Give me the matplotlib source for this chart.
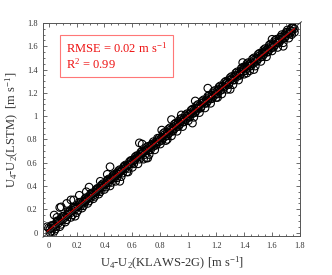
import numpy as np
import matplotlib
matplotlib.use("Agg")
import matplotlib.pyplot as plt
from matplotlib.ticker import MultipleLocator, FuncFormatter

plt.rcParams['font.family'] = ['Liberation Serif', 'DejaVu Serif']
plt.rcParams['mathtext.fontset'] = 'custom'
plt.rcParams['mathtext.rm'] = 'Liberation Serif'
plt.rcParams['mathtext.it'] = 'Liberation Serif:italic'

# core band (KLAWS-2G observed vs LSTM predicted)
obs_core = [
    0.01, 0.02, 0.03, 0.04, 0.05, 0.06, 0.07, 0.08, 0.09, 0.10,
    0.11, 0.12, 0.13, 0.14, 0.15, 0.16, 0.17, 0.18, 0.19, 0.20,
    0.21, 0.22, 0.23, 0.24, 0.25, 0.26, 0.27, 0.28, 0.29, 0.30,
    0.31, 0.32, 0.33, 0.34, 0.35, 0.36, 0.37, 0.38, 0.39, 0.40,
    0.41, 0.42, 0.43, 0.44, 0.45, 0.46, 0.47, 0.48, 0.49, 0.50,
    0.51, 0.52, 0.53, 0.54, 0.55, 0.56, 0.57, 0.58, 0.59, 0.60,
    0.61, 0.62, 0.63, 0.64, 0.65, 0.66, 0.67, 0.68, 0.69, 0.70,
    0.71, 0.72, 0.73, 0.74, 0.75, 0.76, 0.77, 0.78, 0.79, 0.80,
    0.81, 0.82, 0.83, 0.84, 0.85, 0.86, 0.87, 0.88, 0.89, 0.90,
    0.91, 0.92, 0.93, 0.94, 0.95, 0.96, 0.97, 0.98, 0.99, 1.00,
    1.01, 1.02, 1.03, 1.04, 1.05, 1.06, 1.07, 1.08, 1.09, 1.10,
    1.11, 1.12, 1.13, 1.14, 1.15, 1.16, 1.17, 1.18, 1.19, 1.20,
    1.21, 1.22, 1.23, 1.24, 1.25, 1.26, 1.27, 1.28, 1.29, 1.30,
    1.31, 1.32, 1.33, 1.34, 1.35, 1.36, 1.37, 1.38, 1.39, 1.40,
    1.41, 1.42, 1.43, 1.44, 1.45, 1.46, 1.47, 1.48, 1.49, 1.50,
    1.51, 1.52, 1.53, 1.54, 1.55, 1.56, 1.57, 1.58, 1.59, 1.60,
    1.61, 1.62, 1.63, 1.64, 1.65, 1.66, 1.67, 1.68, 1.69, 1.70,
    1.71, 1.72, 1.73, 1.74, 1.75, 1.76,
]
lstm_core = [
    0.03, 0.01, 0.04, 0.06, 0.05, 0.09, 0.08, 0.10, 0.12, 0.11,
    0.14, 0.13, 0.15, 0.16, 0.18, 0.17, 0.19, 0.21, 0.20, 0.22,
    0.22, 0.24, 0.23, 0.25, 0.27, 0.26, 0.28, 0.29, 0.31, 0.30,
    0.33, 0.32, 0.34, 0.35, 0.37, 0.36, 0.38, 0.40, 0.39, 0.41,
    0.42, 0.44, 0.43, 0.45, 0.46, 0.48, 0.47, 0.49, 0.51, 0.50,
    0.52, 0.53, 0.54, 0.56, 0.55, 0.57, 0.58, 0.59, 0.61, 0.60,
    0.62, 0.63, 0.64, 0.66, 0.65, 0.67, 0.68, 0.69, 0.70, 0.71,
    0.72, 0.71, 0.74, 0.75, 0.74, 0.77, 0.76, 0.79, 0.78, 0.80,
    0.82, 0.81, 0.84, 0.83, 0.86, 0.85, 0.88, 0.87, 0.90, 0.89,
    0.92, 0.91, 0.94, 0.93, 0.96, 0.95, 0.98, 0.97, 1.00, 0.99,
    1.02, 1.03, 1.02, 1.05, 1.04, 1.07, 1.06, 1.09, 1.08, 1.11,
    1.12, 1.11, 1.14, 1.13, 1.16, 1.15, 1.18, 1.17, 1.20, 1.19,
    1.22, 1.23, 1.22, 1.25, 1.26, 1.25, 1.28, 1.29, 1.28, 1.31,
    1.32, 1.31, 1.34, 1.35, 1.34, 1.37, 1.36, 1.39, 1.38, 1.41,
    1.42, 1.41, 1.44, 1.43, 1.46, 1.45, 1.48, 1.47, 1.50, 1.49,
    1.52, 1.51, 1.54, 1.53, 1.56, 1.55, 1.58, 1.57, 1.60, 1.59,
    1.62, 1.61, 1.64, 1.63, 1.66, 1.65, 1.68, 1.67, 1.70, 1.69,
    1.72, 1.71, 1.74, 1.73, 1.76, 1.75,
]
# wider part of the band
obs_band = [
    0.02, 0.04, 0.06, 0.08, 0.10, 0.12, 0.14, 0.16, 0.18, 0.20,
    0.22, 0.24, 0.26, 0.28, 0.30, 0.32, 0.34, 0.36, 0.38, 0.40,
    0.42, 0.44, 0.46, 0.48, 0.50, 0.52, 0.54, 0.56, 0.58, 0.60,
    0.62, 0.64, 0.66, 0.68, 0.70, 0.72, 0.74, 0.76, 0.78, 0.80,
    0.82, 0.84, 0.86, 0.88, 0.90, 0.92, 0.94, 0.96, 0.98, 1.00,
    1.02, 1.04, 1.06, 1.08, 1.10, 1.12, 1.14, 1.16, 1.18, 1.20,
    1.22, 1.24, 1.26, 1.28, 1.30, 1.32, 1.34, 1.36, 1.38, 1.40,
    1.42, 1.44, 1.46, 1.48, 1.50, 1.52, 1.54, 1.56, 1.58, 1.60,
    1.62, 1.64, 1.66, 1.68, 1.70, 1.72, 1.74, 1.76,
]
lstm_band = [
    0.06, 0.01, 0.10, 0.05, 0.14, 0.09, 0.18, 0.13, 0.22, 0.17,
    0.26, 0.21, 0.29, 0.25, 0.33, 0.29, 0.37, 0.33, 0.41, 0.37,
    0.45, 0.40, 0.49, 0.44, 0.53, 0.48, 0.57, 0.52, 0.61, 0.56,
    0.65, 0.59, 0.69, 0.63, 0.73, 0.67, 0.76, 0.71, 0.81, 0.76,
    0.85, 0.79, 0.89, 0.83, 0.93, 0.87, 0.97, 0.91, 1.01, 0.96,
    1.05, 0.99, 1.09, 1.03, 1.13, 1.07, 1.17, 1.11, 1.21, 1.16,
    1.25, 1.19, 1.29, 1.23, 1.33, 1.27, 1.37, 1.31, 1.41, 1.36,
    1.45, 1.39, 1.49, 1.43, 1.53, 1.47, 1.57, 1.51, 1.61, 1.56,
    1.65, 1.59, 1.68, 1.63, 1.72, 1.67, 1.76, 1.72,
]
obs_band2 = [
    0.01, 0.03, 0.05, 0.07, 0.09, 0.11, 0.13, 0.15, 0.17, 0.19,
    0.21, 0.23, 0.25, 0.27, 0.29, 0.31, 0.33, 0.35, 0.37, 0.39,
    0.41, 0.43, 0.45, 0.47, 0.49, 0.51, 0.53, 0.55, 0.57, 0.59,
    0.61, 0.63, 0.65, 0.67, 0.69, 0.71, 0.73, 0.75, 0.77, 0.79,
    0.81, 0.83, 0.85, 0.87, 0.89, 0.91, 0.93, 0.95, 0.97, 0.99,
    1.01, 1.03, 1.05, 1.07, 1.09, 1.11, 1.13, 1.15, 1.17, 1.19,
    1.21, 1.23, 1.25, 1.27, 1.29, 1.31, 1.33, 1.35, 1.37, 1.39,
    1.41, 1.43, 1.45, 1.47, 1.49, 1.51, 1.53, 1.55, 1.57, 1.59,
    1.61, 1.63, 1.65, 1.67, 1.69, 1.71, 1.73, 1.75,
]
lstm_band2 = [
    0.00, 0.06, 0.03, 0.10, 0.07, 0.14, 0.11, 0.18, 0.15, 0.22,
    0.19, 0.26, 0.23, 0.30, 0.27, 0.34, 0.31, 0.38, 0.35, 0.42,
    0.39, 0.46, 0.43, 0.50, 0.47, 0.54, 0.51, 0.58, 0.55, 0.62,
    0.59, 0.66, 0.63, 0.70, 0.67, 0.74, 0.71, 0.78, 0.75, 0.81,
    0.79, 0.86, 0.83, 0.90, 0.87, 0.94, 0.91, 0.98, 0.95, 1.02,
    0.99, 1.06, 1.03, 1.10, 1.07, 1.14, 1.11, 1.18, 1.15, 1.22,
    1.19, 1.26, 1.23, 1.30, 1.27, 1.34, 1.31, 1.38, 1.35, 1.42,
    1.39, 1.46, 1.43, 1.50, 1.47, 1.54, 1.51, 1.58, 1.55, 1.62,
    1.59, 1.66, 1.63, 1.70, 1.67, 1.74, 1.71, 1.76,
]
# scattered points off the band
obs_out = [0.00, -0.01, 0.04, 0.08, 0.09, 0.13, 0.16, 0.18, 0.22, 0.19, 0.29,
           0.34, 0.42, 0.44, 0.51, 0.65, 0.67, 0.70, 0.71, 0.81, 0.85, 0.88,
           1.03, 1.05, 1.14, 1.30, 1.39, 1.42, 1.47, 1.54, 1.68, 1.74,
           0.06, 0.27, 0.37, 0.57, 0.95, 1.21, 1.60]
lstm_out = [0.04, 0.05, 0.15, 0.215, 0.22, 0.25, 0.28, 0.28, 0.32, 0.14, 0.39,
            0.36, 0.50, 0.565, 0.44, 0.77, 0.76, 0.64, 0.64, 0.88, 0.80, 0.97,
            0.94, 1.13, 1.24, 1.23, 1.46, 1.37, 1.40, 1.55, 1.60, 1.70,
            0.13, 0.35, 0.44, 0.52, 1.01, 1.16, 1.66]

assert len(obs_core) == len(lstm_core), (len(obs_core), len(lstm_core))
assert len(obs_band) == len(lstm_band), (len(obs_band), len(lstm_band))
assert len(obs_band2) == len(lstm_band2), (len(obs_band2), len(lstm_band2))
assert len(obs_out) == len(lstm_out), (len(obs_out), len(lstm_out))

obs = np.array(obs_core + obs_band + obs_band2 + obs_out)
lstm = np.array(lstm_core + lstm_band + lstm_band2 + lstm_out)

fig = plt.figure(figsize=(3.32, 2.75), dpi=100)
ax = fig.add_axes([0.1295, 0.1418, 0.7741, 0.7746])

ax.scatter(obs, lstm, s=30, facecolors='none', edgecolors='black', linewidths=0.8, zorder=2)
ax.plot([-0.04, 1.81], [-0.04, 1.81], color='#333333', lw=0.7, zorder=3, clip_on=False)
coef = np.polyfit(obs, lstm, 1)
xf = np.array([obs.min(), obs.max()])
ax.plot(xf, np.polyval(coef, xf), color='#cc0000', lw=0.8, zorder=4)

ax.set_xlim(-0.04, 1.8)
ax.set_ylim(-0.03, 1.8)
for axis in (ax.xaxis, ax.yaxis):
    axis.set_major_locator(MultipleLocator(0.2))
    axis.set_minor_locator(MultipleLocator(0.05))
    axis.set_major_formatter(FuncFormatter(lambda v, p: ('%g' % round(v, 2))))
ax.tick_params(which='both', direction='in', top=True, right=True, colors='#555555',
               labelcolor='#333333', labelsize=6, width=0.6)
ax.tick_params(which='major', length=3, pad=4)
ax.tick_params(which='minor', length=1.5)
for s in ax.spines.values():
    s.set_color('#555555')
    s.set_linewidth(0.7)

ax.set_xlabel(r'U$_4$-U$_2$(KLAWS-2G) [m s$^{-1}$]', fontsize=9, color='#333333', labelpad=4)
ax.set_ylabel(r'U$_4$-U$_2$(LSTM)  [m s$^{-1}$]', fontsize=9, color='#333333', labelpad=4)

ax.text(0.09, 0.915, 'RMSE = 0.02 m s$^{-1}$\nR$^2$ = 0.99', transform=ax.transAxes,
        fontsize=9, color='#ee1111', va='top', ha='left', linespacing=1.1,
        bbox=dict(boxstyle='square,pad=0.45', facecolor='white', edgecolor='#ff7777', linewidth=0.8),
        zorder=5)

fig.savefig('out.png', dpi=100)
